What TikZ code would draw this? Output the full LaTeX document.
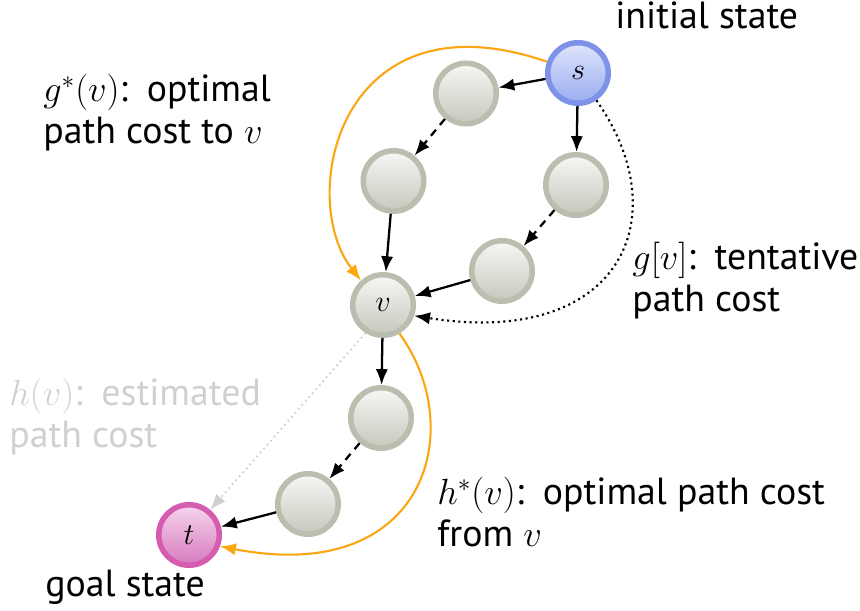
\documentclass[tikz,border=0pt]{standalone}
\usepackage{amsmath}
\usepackage{fontspec}
\setmainfont{PT Sans}
\usepackage{tikz}
\usetikzlibrary{arrows.meta}
\definecolor{nodegray}{RGB}{187,190,174}
\definecolor{nodegraytop}{RGB}{247,247,245}
\definecolor{nodegraybot}{RGB}{198,200,188}
\definecolor{startblue}{RGB}{126,146,232}
\definecolor{startbluetop}{RGB}{224,230,252}
\definecolor{startbluebot}{RGB}{152,172,240}
\definecolor{goalpink}{RGB}{214,92,176}
\definecolor{goalpinktop}{RGB}{246,214,236}
\definecolor{goalpinkbot}{RGB}{214,122,190}
\definecolor{pathorange}{RGB}{252,166,18}
\definecolor{hintgray}{RGB}{208,208,208}

\begin{document}
\begin{tikzpicture}[font=\fontsize{21.5}{24}\selectfont,
  vertex/.style={circle, draw=nodegray, line width=0.11cm, minimum size=1.21cm, inner sep=0pt,
    top color=nodegraytop, bottom color=nodegraybot, font=\fontsize{16}{16}\selectfont},
  startnode/.style={draw=startblue, top color=startbluetop, bottom color=startbluebot},
  goalnode/.style={draw=goalpink, top color=goalpinktop, bottom color=goalpinkbot},
  edge/.style={line width=1.3pt, -{Latex[length=9pt,width=7pt]}},
  dashededge/.style={edge, dash pattern=on 4.5pt off 3.5pt},
  costcurve/.style={line width=1.2pt, pathorange, -{Latex[length=9pt,width=7pt]}},
  remark/.style={anchor=base west, align=left, inner sep=0pt}]
\useasboundingbox (0,0) rectangle (17.2,12.22);

% search graph
\node[vertex, startnode] (s) at (11.56,10.76) {$s$};
\node[vertex] (a) at (9.32,10.35) {};
\node[vertex] (b) at (7.87,8.60) {};
\node[vertex] (c) at (11.52,8.52) {};
\node[vertex] (d) at (10.04,6.80) {};
\node[vertex] (v) at (7.66,6.12) {$v$};
\node[vertex] (e) at (7.62,3.86) {};
\node[vertex] (f) at (6.16,2.14) {};
\node[vertex, goalnode] (t) at (3.78,1.52) {$t$};

\draw[edge] (s) -- (a);
\draw[edge] (s) -- (c);
\draw[dashededge] (a) -- (b);
\draw[dashededge] (c) -- (d);
\draw[edge] (b) -- (v);
\draw[edge] (d) -- (v);
\draw[edge] (v) -- (e);
\draw[dashededge] (e) -- (f);
\draw[edge] (f) -- (t);

% costs
\draw[costcurve] (s.160) .. controls +(161:4.4) and +(128:2.1) .. (v.132);
\draw[costcurve] (v.-60) .. controls +(-54:2.36) and +(-11:4.2) .. (t.-20);
\draw[line width=1.2pt, dotted, -{Latex[length=9pt,width=7pt]}]
  (s.-56) .. controls +(-55:2.9) and +(-9:4.14) .. (v.-19);
\draw[line width=1pt, hintgray, dotted, -{Latex[length=9pt,width=7pt]}] (v.-122) -- (t.50);

% labels
\node[remark] (init) at (12.30,11.64) {initial state};
\node[remark] (goal) at (0.90,0.28) {goal state};
\node[remark] (gopt) at (0.86,9.34) {$g^*(v)$:\enspace optimal\\path cost to $v$};
\node[remark] (gtent) at (12.64,5.98) {$g[v]$:\enspace tentative\\path cost};
\node[remark, text=hintgray] (hest) at (0.18,3.26) {$h(v)$:\enspace estimated\\path cost};
\node[remark] (hopt) at (8.74,1.28) {$h^*(v)$:\enspace optimal path cost\\from $v$};
\end{tikzpicture}
\end{document}
